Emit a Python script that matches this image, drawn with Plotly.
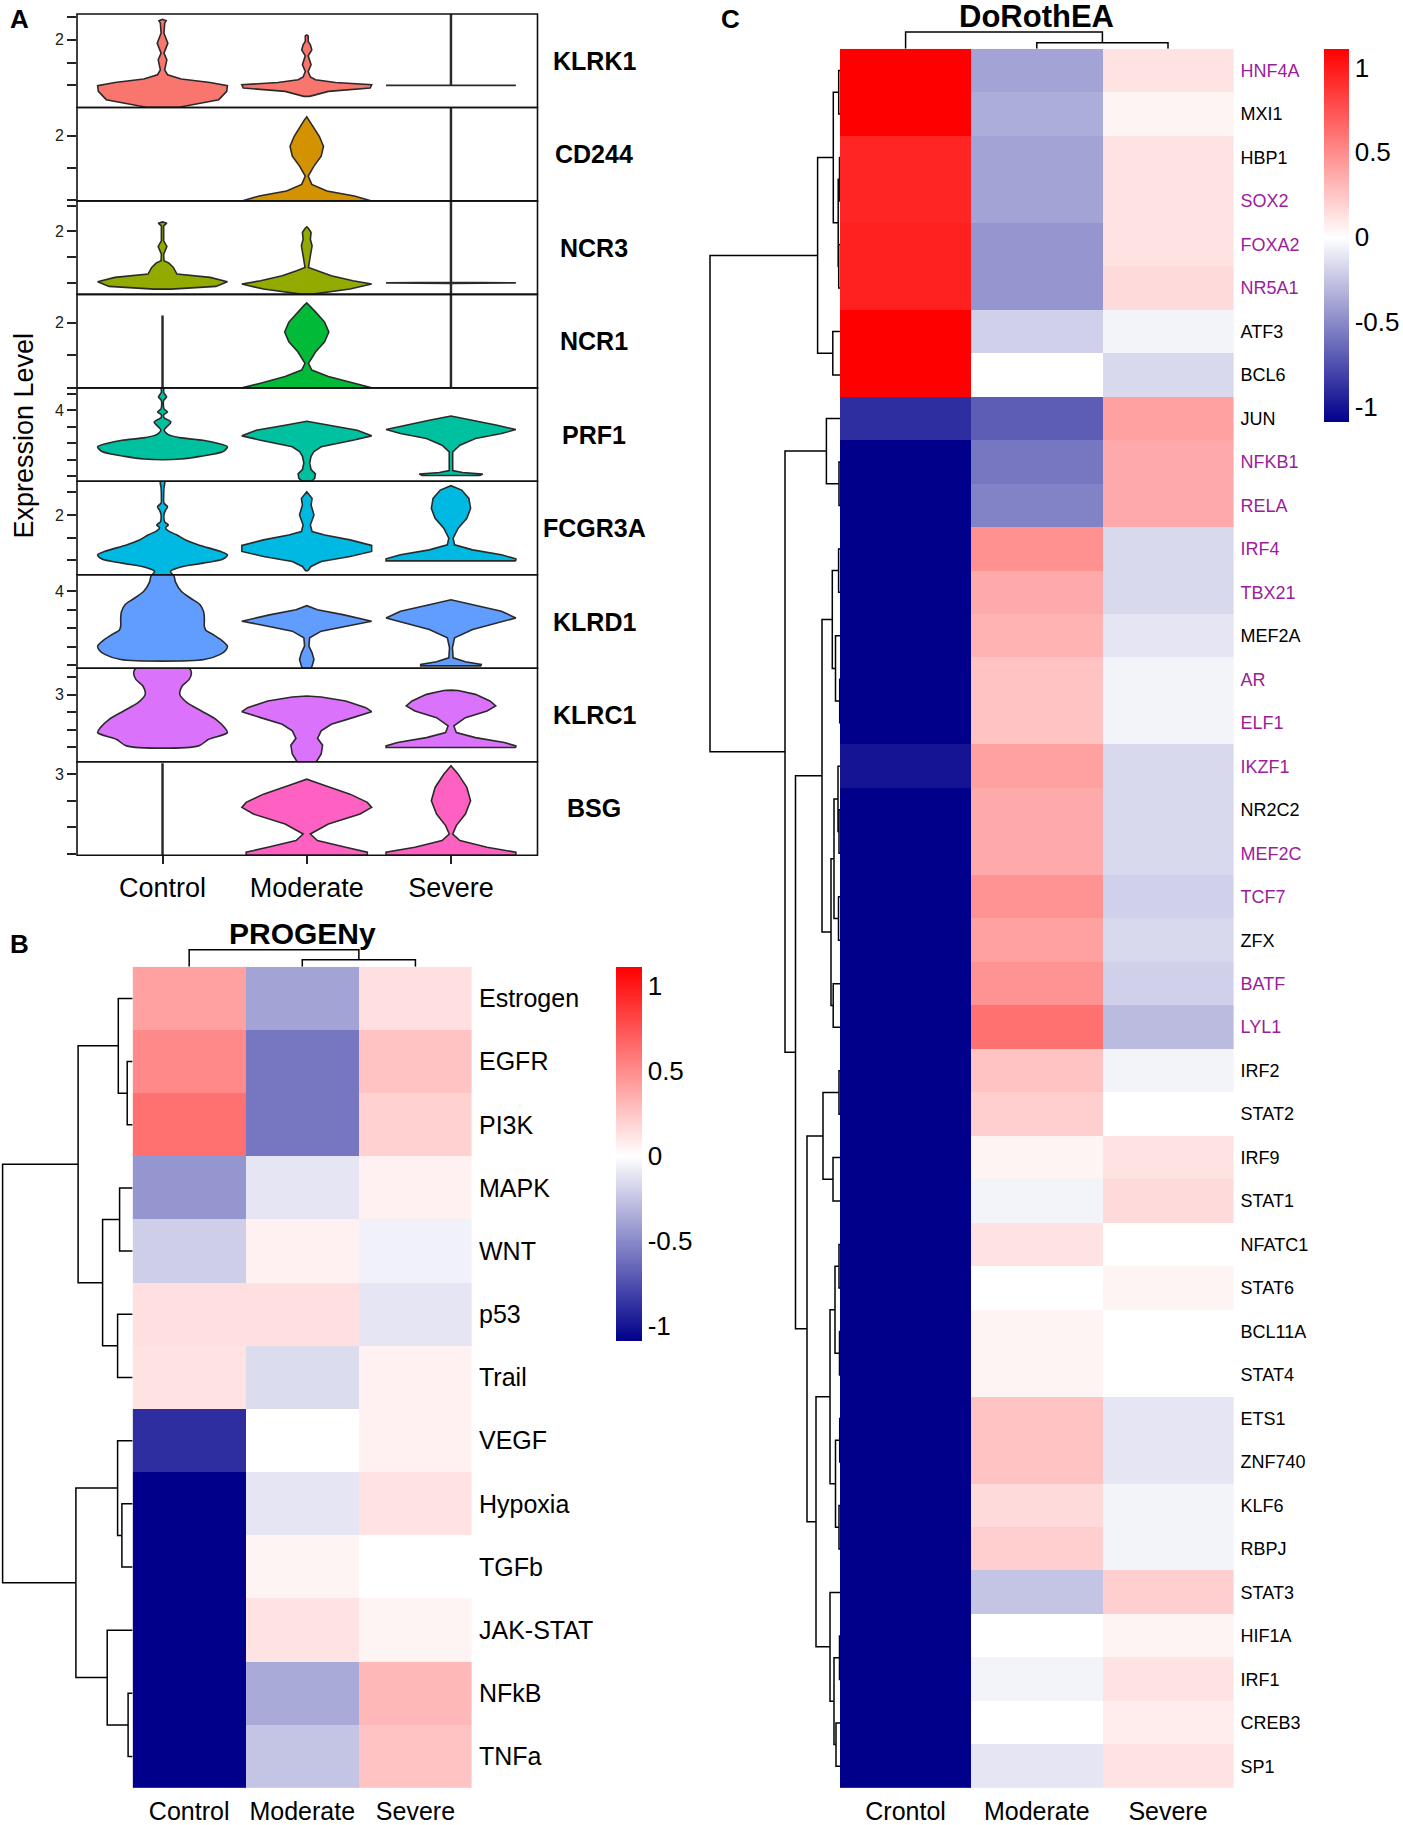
import plotly.graph_objects as go

W, H = 1403, 1825
FONT = "Liberation Sans, Arial, sans-serif"


def fx(p):
    return p / W


def fy(p):
    return 1 - p / H


# ======================= Panel A : stacked violins =======================
groups = ["Control", "Moderate", "Severe"]
genes = ["KLRK1", "CD244", "NCR3", "NCR1", "PRF1", "FCGR3A", "KLRD1", "KLRC1", "BSG"]
gene_colors = ["#F8766D", "#D39200", "#93AA00", "#00BA38", "#00C19F",
               "#00B9E3", "#619CFF", "#DB72FB", "#FF61C3"]
y_windows = [(0.520, 2.559), (0.985, 2.437), (0.788, 2.590), (0.995, 2.439),
             (1.842, 4.685), (0.684, 2.741), (1.925, 4.446), (1.080, 3.757),
             (1.478, 3.234)]
y_tickvals = [[1, 1.5, 2, 2.5], [1, 1.5, 2], [1, 1.5, 2, 2.5], [1, 1.5, 2],
              [2, 2.5, 3, 3.5, 4, 4.5], [1, 1.5, 2, 2.5], [2, 2.5, 3, 3.5, 4],
              [1.5, 2, 2.5, 3, 3.5], [1.5, 2, 2.5, 3]]
y_labelled = [2, 2, 2, 2, 4, 2, 4, 3, 3]

# violin outlines: (expression level, half width) from bottom to top
KLRK1 = {
    "Control": [(0.52, 0.105), (0.689, 0.39), (0.870, 0.445), (0.993, 0.45), (1.065, 0.33),
                (1.139, 0.13), (1.233, 0.035), (1.341, 0.015), (1.559, 0.03), (1.704, 0.01),
                (1.922, 0.037), (2.139, 0.01), (2.357, 0.015), (2.413, 0.025), (2.443, 0.0)],
    "Moderate": [(0.761, 0.02), (0.870, 0.15), (0.943, 0.44), (1.015, 0.45), (1.065, 0.2),
                 (1.124, 0.06), (1.183, 0.025), (1.304, 0.01), (1.450, 0.03), (1.646, 0.01),
                 (1.776, 0.035), (1.885, 0.025), (1.957, 0.01), (2.08, 0.01), (2.10, 0.0)],
    "Severe": [(1.0, 0.45), (1.005, 0.003), (2.559, 0.003)],
}
CD244 = {
    "Control": None,
    "Moderate": [(0.985, 0.45), (1.06, 0.33), (1.138, 0.14), (1.241, 0.035), (1.37, 0.01),
                 (1.525, 0.05), (1.68, 0.1), (1.834, 0.116), (1.989, 0.087), (2.144, 0.045),
                 (2.248, 0.015), (2.29, 0.0)],
    "Severe": [(0.985, 0.003), (2.437, 0.003)],
}
NCR3 = {
    "Control": [(0.890, 0.06), (0.942, 0.37), (1.031, 0.45), (1.115, 0.33), (1.179, 0.1),
                (1.308, 0.075), (1.39, 0.045), (1.435, 0.01), (1.563, 0.008), (1.712, 0.03),
                (1.819, 0.008), (2.108, 0.008), (2.16, 0.03), (2.185, 0.0)],
    "Moderate": [(0.788, 0.03), (0.890, 0.3), (0.987, 0.45), (1.05, 0.32), (1.146, 0.17),
                 (1.242, 0.07), (1.308, 0.012), (1.531, 0.025), (1.723, 0.037), (1.852, 0.025),
                 (1.98, 0.03), (2.058, 0.012), (2.088, 0.0)],
    "Severe": [(0.788, 0.003), (1.0, 0.003), (1.01, 0.45), (1.02, 0.003), (2.59, 0.003)],
}
NCR1 = {
    "Control": [(0.995, 0.003), (2.10, 0.003)],
    "Moderate": [(0.995, 0.45), (1.067, 0.32), (1.17, 0.15), (1.27, 0.035), (1.373, 0.012),
                 (1.552, 0.062), (1.705, 0.124), (1.858, 0.153), (2.011, 0.124), (2.164, 0.062),
                 (2.265, 0.02), (2.306, 0.0)],
    "Severe": [(0.995, 0.003), (2.439, 0.003)],
}
PRF1 = {
    "Control": [(2.52, 0.13), (2.6, 0.26), (2.75, 0.42), (2.891, 0.45), (3.0, 0.38),
                (3.09, 0.28), (3.17, 0.12), (3.26, 0.04), (3.4, 0.012), (3.5, 0.03),
                (3.648, 0.058), (3.78, 0.01), (3.88, 0.01), (3.95, 0.035), (4.05, 0.01),
                (4.3, 0.008), (4.41, 0.028), (4.55, 0.008), (4.685, 0.008)],
    "Moderate": [(1.842, 0.03), (1.93, 0.055), (2.07, 0.06), (2.2, 0.03), (2.4, 0.02),
                 (2.6, 0.03), (2.75, 0.05), (2.891, 0.1), (3.091, 0.32), (3.224, 0.45),
                 (3.394, 0.35), (3.545, 0.15), (3.667, 0.0)],
    "Severe": [(2.02, 0.2), (2.06, 0.22), (2.11, 0.08), (2.17, 0.012), (2.333, 0.012),
               (2.739, 0.012), (2.94, 0.062), (3.142, 0.17), (3.294, 0.35), (3.415, 0.45),
               (3.545, 0.32), (3.697, 0.15), (3.83, 0.0)],
}
FCGR3A = {
    "Control": [(0.684, 0.07), (0.76, 0.055), (0.85, 0.12), (0.94, 0.28), (1.03, 0.42),
                (1.123, 0.45), (1.2, 0.4), (1.34, 0.25), (1.45, 0.16), (1.56, 0.1),
                (1.65, 0.04), (1.72, 0.02), (1.78, 0.04), (1.85, 0.015), (2.0, 0.01),
                (2.1, 0.02), (2.18, 0.035), (2.26, 0.01), (2.4, 0.008), (2.6, 0.01),
                (2.741, 0.015)],
    "Moderate": [(0.772, 0.008), (0.868, 0.03), (0.978, 0.1), (1.088, 0.3), (1.197, 0.45),
                 (1.329, 0.45), (1.452, 0.3), (1.561, 0.124), (1.636, 0.037), (1.781, 0.025),
                 (2.0, 0.05), (2.219, 0.03), (2.366, 0.037), (2.513, 0.0)],
    "Severe": [(0.991, 0.45), (1.035, 0.45), (1.123, 0.35), (1.232, 0.15), (1.342, 0.025),
               (1.489, 0.015), (1.708, 0.05), (1.927, 0.11), (2.147, 0.136), (2.366, 0.124),
               (2.548, 0.074), (2.645, 0.0)],
}
KLRD1 = {
    "Control": [(2.16, 0.29), (2.3, 0.4), (2.42, 0.44), (2.52, 0.45), (2.68, 0.41),
                (2.835, 0.35), (2.95, 0.3), (3.06, 0.29), (3.28, 0.29), (3.45, 0.285),
                (3.64, 0.26), (3.8, 0.2), (4.0, 0.13), (4.25, 0.09), (4.446, 0.075)],
    "Moderate": [(1.925, 0.03), (1.984, 0.037), (2.161, 0.05), (2.341, 0.037), (2.522, 0.015),
                 (2.745, 0.02), (2.925, 0.1), (3.059, 0.27), (3.194, 0.45), (3.371, 0.25),
                 (3.505, 0.074), (3.613, 0.0)],
    "Severe": [(1.99, 0.21), (2.027, 0.21), (2.1, 0.1), (2.207, 0.015), (2.476, 0.01),
               (2.745, 0.025), (2.968, 0.15), (3.148, 0.32), (3.282, 0.45), (3.462, 0.35),
               (3.64, 0.15), (3.774, 0.0)],
}
KLRC1 = {
    "Control": [(1.534, 0.25), (1.723, 0.32), (1.914, 0.45), (2.057, 0.43), (2.294, 0.37),
                (2.534, 0.27), (2.771, 0.17), (3.009, 0.12), (3.249, 0.136), (3.437, 0.185),
                (3.629, 0.2), (3.757, 0.185)],
    "Moderate": [(1.08, 0.067), (1.3, 0.1), (1.55, 0.11), (1.75, 0.075), (1.963, 0.1),
                 (2.151, 0.17), (2.343, 0.32), (2.514, 0.45), (2.629, 0.41), (2.82, 0.27),
                 (2.934, 0.1), (2.963, 0.0)],
    "Severe": [(1.486, 0.45), (1.534, 0.45), (1.629, 0.37), (1.771, 0.17), (1.914, 0.037),
               (2.106, 0.02), (2.343, 0.1), (2.534, 0.25), (2.677, 0.31), (2.82, 0.27),
               (3.009, 0.17), (3.12, 0.05), (3.13, 0.0)],
}
BSG = {
    "Control": [(1.478, 0.003), (3.19, 0.003)],
    "Moderate": [(1.478, 0.42), (1.534, 0.42), (1.627, 0.27), (1.753, 0.074), (1.876, 0.025),
                 (2.064, 0.15), (2.251, 0.37), (2.376, 0.45), (2.47, 0.42), (2.625, 0.3),
                 (2.813, 0.1), (2.906, 0.0)],
    "Severe": [(1.478, 0.45), (1.534, 0.45), (1.627, 0.25), (1.753, 0.062), (1.876, 0.012),
               (2.034, 0.037), (2.251, 0.1), (2.502, 0.136), (2.751, 0.11), (3.0, 0.05),
               (3.157, 0.0)],
}
violin_profiles = [KLRK1, CD244, NCR3, NCR1, PRF1, FCGR3A, KLRD1, KLRC1, BSG]

# ======================= Panel B : PROGENy heatmap =======================
progeny_pathways = ["Estrogen", "EGFR", "PI3K", "MAPK", "WNT", "p53", "Trail",
                    "VEGF", "Hypoxia", "TGFb", "JAK-STAT", "NFkB", "TNFa"]
progeny_cols = ["Control", "Moderate", "Severe"]
progeny_control = [0.41, 0.52, 0.62, -0.45, -0.21, 0.14, 0.12, -0.89, -1.085,
                   -1.085, -1.085, -1.085, -1.085]
progeny_moderate = [-0.39, -0.58, -0.58, -0.11, 0.06, 0.14, -0.15, 0.0, -0.11,
                    0.05, 0.12, -0.36, -0.25]
progeny_severe = [0.14, 0.26, 0.20, 0.06, -0.06, -0.11, 0.06, 0.06, 0.12,
                  0.0, 0.05, 0.31, 0.26]
progeny_row_tree = (((0, (1, 2, 5.4), 14.3), ((3, 4, 13), (5, 6, 15), 30), 54.5),
                    ((7, (8, 9, 10.7), 15), (10, (11, 12, 4.5), 25.4), 56.7), 130)
progeny_col_tree = (0, (1, 2, 7), 17)

# ======================= Panel C : DoRothEA heatmap =======================
dorothea_tfs = ["HNF4A", "MXI1", "HBP1", "SOX2", "FOXA2", "NR5A1", "ATF3", "BCL6",
                "JUN", "NFKB1", "RELA", "IRF4", "TBX21", "MEF2A", "AR", "ELF1",
                "IKZF1", "NR2C2", "MEF2C", "TCF7", "ZFX", "BATF", "LYL1", "IRF2",
                "STAT2", "IRF9", "STAT1", "NFATC1", "STAT6", "BCL11A", "STAT4", "ETS1",
                "ZNF740", "KLF6", "RBPJ", "STAT3", "HIF1A", "IRF1", "CREB3", "SP1"]
dorothea_highlight = ["HNF4A", "SOX2", "FOXA2", "NR5A1", "NFKB1", "RELA", "IRF4", "TBX21",
                      "AR", "ELF1", "IKZF1", "MEF2C", "TCF7", "BATF", "LYL1"]
dorothea_cols = ["Crontol", "Moderate", "Severe"]
dorothea_control = [1.11, 1.11, 0.95, 0.95, 0.97, 0.97, 1.11, 1.11, -0.89, -1.085,
                    -1.085, -1.085, -1.085, -1.085, -1.085, -1.085, -1.0, -1.085, -1.085, -1.085,
                    -1.085, -1.085, -1.085, -1.085, -1.085, -1.085, -1.085, -1.085, -1.085, -1.085,
                    -1.085, -1.085, -1.085, -1.085, -1.085, -1.085, -1.085, -1.085, -1.085, -1.085]
dorothea_moderate = [-0.39, -0.35, -0.39, -0.39, -0.45, -0.45, -0.20, 0.0, -0.69, -0.58,
                     -0.53, 0.48, 0.37, 0.33, 0.26, 0.26, 0.41, 0.37, 0.37, 0.47,
                     0.41, 0.47, 0.62, 0.26, 0.21, 0.05, -0.05, 0.12, 0.0, 0.05,
                     0.05, 0.26, 0.26, 0.16, 0.21, -0.25, 0.0, -0.05, 0.0, -0.11]
dorothea_severe = [0.12, 0.05, 0.12, 0.12, 0.12, 0.16, -0.05, -0.16, 0.41, 0.37,
                   0.37, -0.16, -0.16, -0.11, -0.05, -0.05, -0.16, -0.16, -0.16, -0.2,
                   -0.16, -0.2, -0.29, -0.05, 0.0, 0.12, 0.16, 0.0, 0.05, 0.0,
                   0.0, -0.11, -0.11, -0.05, -0.05, 0.21, 0.05, 0.12, 0.08, 0.12]
_top = (((0, 1, 1.3), ((2, 3, 0.5), (4, 5, 1.3), 1.8), 6.7), (6, 7, 7.2), 22.4)
_jun = (8, (9, 10, 1.0), 13.6)
_c11 = ((11, 12, 1.4), (13, (14, 15, 0.3), 4.5), 7.7)
_c16 = (((16, (17, 18, 1.0), 2.0), (19, 20, 1.5), 6.0), (21, 22, 6.8), 9.0)
_c23 = ((23, 24, 1.0), (25, 26, 7.0), 17)
_c27 = ((27, 28, 1.0), (29, 30, 0.5), 5.0)
_c31 = ((31, 32, 0.3), (33, 34, 1.0), 4.5)
_c35 = (35, ((36, 37, 0.5), (38, 39, 4.0), 6.0), 10)
dorothea_row_tree = (_top, (_jun, ((_c11, _c16, 18), (_c23, ((_c27, _c31, 10), _c35, 24), 33), 44.5), 55), 130)
dorothea_col_tree = (0, (1, 2, 6), 17)

# ======================= build figure =======================
fig = go.Figure()
layout = dict(width=W, height=H, margin=dict(l=0, r=0, t=0, b=0),
              paper_bgcolor="white", plot_bgcolor="white", showlegend=False,
              font=dict(family=FONT, color="black"))
shapes, annotations = [], []


def label(text, x, y, size, angle=0, color="black"):
    annotations.append(dict(text=text, x=fx(x), y=fy(y), xref="paper", yref="paper",
                            xanchor="center", yanchor="middle", textangle=angle,
                            showarrow=False, font=dict(size=size, family=FONT, color=color)))


# ---- Panel A geometry
A_x0, A_x1 = 77, 537.5
row_top0, row_h = 14.0, 93.78
layout["xaxis"] = dict(domain=[fx(A_x0), fx(A_x1)], range=[0.407, 3.6], anchor="y9",
                       tickvals=[1, 2, 3], ticktext=groups, ticks="outside", ticklen=8,
                       tickwidth=1.5, tickcolor="#222", showgrid=False, zeroline=False,
                       showline=False, tickfont=dict(size=27, family=FONT, color="black"))

for i, gene in enumerate(genes):
    top = row_top0 + i * row_h
    bot = top + row_h
    yname = "yaxis" if i == 0 else f"yaxis{i + 1}"
    yref = "y" if i == 0 else f"y{i + 1}"
    layout[yname] = dict(domain=[fy(bot), fy(top)], range=list(y_windows[i]), anchor="x",
                         tickvals=y_tickvals[i],
                         ticktext=[(f"{v:g}" if v == y_labelled[i] else "") for v in y_tickvals[i]],
                         ticks="outside", ticklen=9, tickwidth=1.5, tickcolor="#222",
                         showgrid=False, zeroline=False, showline=False,
                         tickfont=dict(size=16, family=FONT, color="#222"))
    shapes.append(dict(type="rect", xref="paper", yref="paper", x0=fx(A_x0), x1=fx(A_x1),
                       y0=fy(bot), y1=fy(top), line=dict(color="#111", width=1.6),
                       fillcolor="rgba(0,0,0,0)", layer="above"))
    label(f"<b>{gene}</b>", 594, top + row_h / 2, 25)
    for j, grp in enumerate(groups):
        prof = violin_profiles[i][grp]
        if not prof:
            continue
        c = j + 1
        xs = [c + hw for v, hw in prof] + [c - hw for v, hw in reversed(prof)]
        ys = [v for v, hw in prof] + [v for v, hw in reversed(prof)]
        xs.append(xs[0])
        ys.append(ys[0])
        thin = any(hw <= 0.004 for v, hw in prof)
        fig.add_trace(go.Scatter(x=xs, y=ys, xaxis="x", yaxis=yref, mode="lines",
                                 fill="toself", fillcolor=gene_colors[i],
                                 line=dict(color="#2a2a2a", width=1.6,
                                           shape="linear" if thin else "spline",
                                           smoothing=0.8),
                                 hoverinfo="skip"))

label("Expression Level", 24, 437, 27, angle=-90)
label("<b>A</b>", 19, 19, 26)


# ---- dendrogram helper
def dendro_segments(tree):
    hs, ps = [], []

    def walk(node):
        if isinstance(node, int):
            return float(node), 0.0
        left, right, h = node
        pl, hl = walk(left)
        pr, hr = walk(right)
        hs.extend([hl, h, h, hr, None])
        ps.extend([pl, pl, pr, pr, None])
        return (pl + pr) / 2, h

    walk(tree)
    return hs, ps


ZMIN, ZMAX = -1.085, 1.11
zero = -ZMIN / (ZMAX - ZMIN)
colorscale = [[0.0, "#00008B"], [zero, "#FFFFFF"], [1.0, "#FF0000"]]


def add_heatmap(rows, cols, ctrl, mod, sev, ticktext_rows, hx, hy, xa, ya, cb, lab_size,
                row_tree, col_tree, dxa, dya, cxa, cya, dendro_left, col_dendro_top):
    n = len(rows)
    z = [[ctrl[k], mod[k], sev[k]] for k in range(n)]
    fig.add_trace(go.Heatmap(z=z, x=[0, 1, 2], y=list(range(n)), zmin=ZMIN, zmax=ZMAX,
                             colorscale=colorscale, xaxis=xa, yaxis=ya, hoverinfo="skip",
                             colorbar=cb))
    xan = "xaxis" + xa[1:]
    yan = "yaxis" + ya[1:]
    layout[xan] = dict(domain=[fx(hx[0]), fx(hx[1])], range=[-0.5, 2.5], anchor=ya,
                       tickvals=[0, 1, 2], ticktext=cols, ticks="", showgrid=False,
                       zeroline=False, showline=False, ticklabelstandoff=6,
                       tickfont=dict(size=25, family=FONT, color="black"))
    layout[yan] = dict(domain=[fy(hy[1]), fy(hy[0])], range=[n - 0.5, -0.5], anchor=xa,
                       side="right", tickvals=list(range(n)), ticktext=ticktext_rows,
                       ticks="", showgrid=False, zeroline=False, showline=False,
                       ticklabelstandoff=6,
                       tickfont=dict(size=lab_size, family=FONT, color="black"))
    # row dendrogram
    hs, ps = dendro_segments(row_tree)
    fig.add_trace(go.Scatter(x=hs, y=ps, xaxis=dxa, yaxis=dya, mode="lines",
                             line=dict(color="black", width=1.5), hoverinfo="skip"))
    wpx = hx[0] - dendro_left
    layout["xaxis" + dxa[1:]] = dict(domain=[fx(dendro_left), fx(hx[0])], range=[wpx, 0],
                                     visible=False, anchor=dya)
    layout["yaxis" + dya[1:]] = dict(domain=[fy(hy[1]), fy(hy[0])], range=[n - 0.5, -0.5],
                                     visible=False, anchor=dxa)
    # column dendrogram
    hs, ps = dendro_segments(col_tree)
    fig.add_trace(go.Scatter(x=ps, y=hs, xaxis=cxa, yaxis=cya, mode="lines",
                             line=dict(color="black", width=1.5), hoverinfo="skip"))
    layout["xaxis" + cxa[1:]] = dict(domain=[fx(hx[0]), fx(hx[1])], range=[-0.5, 2.5],
                                     visible=False, anchor=cya)
    layout["yaxis" + cya[1:]] = dict(domain=[fy(hy[0]), fy(col_dendro_top)],
                                     range=[0, hy[0] - col_dendro_top],
                                     visible=False, anchor=cxa)


# ---- Panel B
B_hx, B_hy = (132.6, 472.0), (970.0, 1794.0)
cbB = dict(x=fx(616), xanchor="left", xpad=0, ypad=0, y=fy((970 + 1345) / 2), yanchor="middle",
           len=(1345 - 970) / H, lenmode="fraction", thickness=25.5, thicknessmode="pixels",
           tickvals=[-1, -0.5, 0, 0.5, 1], ticktext=["-1", "-0.5", "0", "0.5", "1"],
           ticks="", outlinewidth=0, tickfont=dict(size=26, family=FONT, color="black"))
add_heatmap(progeny_pathways, progeny_cols, progeny_control, progeny_moderate, progeny_severe,
            progeny_pathways, B_hx, B_hy, "x2", "y10", cbB, 25,
            progeny_row_tree, progeny_col_tree, "x3", "y11", "x4", "y12", 0.0, 945.0)
label("<b>PROGENy</b>", 302, 937, 30)
label("<b>B</b>", 19, 947, 26)

# ---- Panel C
MAG = "#9C1C9C"
tf_text = [(f"<span style='color:{MAG}'>{t}</span>" if t in dorothea_highlight else t)
           for t in dorothea_tfs]
C_hx, C_hy = (840.0, 1233.6), (49.0, 1794.0)
cbC = dict(x=fx(1324), xanchor="left", xpad=0, ypad=0, y=fy((49 + 423) / 2), yanchor="middle",
           len=(423 - 49) / H, lenmode="fraction", thickness=25, thicknessmode="pixels",
           tickvals=[-1, -0.5, 0, 0.5, 1], ticktext=["-1", "-0.5", "0", "0.5", "1"],
           ticks="", outlinewidth=0, tickfont=dict(size=26, family=FONT, color="black"))
add_heatmap(dorothea_tfs, dorothea_cols, dorothea_control, dorothea_moderate, dorothea_severe,
            tf_text, C_hx, C_hy, "x5", "y13", cbC, 18,
            dorothea_row_tree, dorothea_col_tree, "x6", "y14", "x7", "y15", 697.0, 24.0)
label("<b>DoRothEA</b>", 1036, 17, 31)
label("<b>C</b>", 730, 19, 26)

layout["shapes"] = shapes
layout["annotations"] = annotations
fig.update_layout(**layout)
fig.write_html("out.html", config={"displayModeBar": False},
               post_script="document.body.style.margin='0px';document.body.style.padding='0px';")
